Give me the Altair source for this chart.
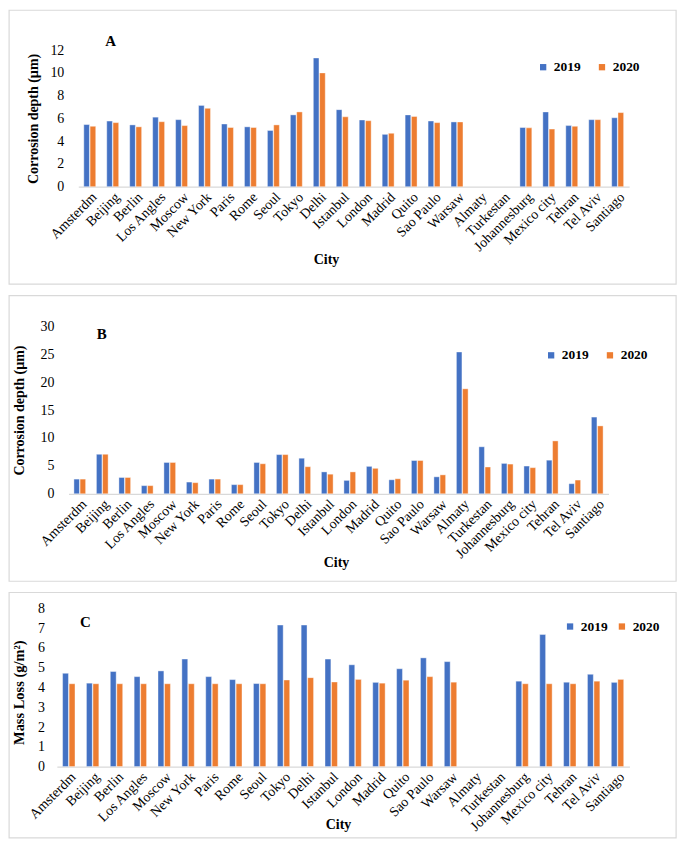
import altair as alt
import pandas as pd

cities = ["Amsterdm", "Beijing", "Berlin", "Los Angles", "Moscow", "New York", "Paris",
          "Rome", "Seoul", "Tokyo", "Delhi", "Istanbul", "London", "Madrid", "Quito",
          "Sao Paulo", "Warsaw", "Almaty", "Turkestan", "Johannesburg", "Mexico city",
          "Tehran", "Tel Aviv", "Santiago"]
years = ["2019", "2020"]

# Panel A: corrosion depth (um)
depth_a_2019 = [5.46, 5.77, 5.43, 6.11, 5.89, 7.14, 5.51, 5.26, 4.94, 6.31, 11.31, 6.77,
                5.86, 4.60, 6.31, 5.77, 5.69, None, None, 5.20, 6.57, 5.37, 5.89, 6.06]
depth_a_2020 = [5.31, 5.63, 5.26, 5.71, 5.37, 6.89, 5.20, 5.20, 5.43, 6.57, 10.00, 6.14,
                5.80, 4.69, 6.17, 5.63, 5.69, None, None, 5.17, 5.06, 5.31, 5.89, 6.51]
# Panel B: corrosion depth (um)
depth_b_2019 = [2.63, 7.08, 2.92, 1.46, 5.61, 2.10, 2.63, 1.64, 5.61, 7.02, 6.37, 3.92,
                2.40, 4.91, 2.51, 5.96, 3.04, 25.40, 8.42, 5.44, 4.97, 6.02, 1.81, 13.74]
depth_b_2020 = [2.63, 7.08, 2.92, 1.46, 5.61, 1.99, 2.63, 1.64, 5.38, 7.02, 4.85, 3.51,
                3.92, 4.56, 2.69, 5.96, 3.39, 18.80, 4.80, 5.32, 4.68, 9.47, 2.46, 12.16]
# Panel C: mass loss (g/m2)
mass_c_2019 = [4.72, 4.22, 4.81, 4.55, 4.84, 5.44, 4.55, 4.40, 4.20, 7.16, 7.16, 5.44,
               5.15, 4.26, 4.95, 5.50, 5.31, None, None, 4.32, 6.68, 4.27, 4.67, 4.26]
mass_c_2020 = [4.19, 4.19, 4.19, 4.19, 4.19, 4.19, 4.19, 4.19, 4.19, 4.38, 4.50, 4.28,
               4.41, 4.22, 4.37, 4.55, 4.27, None, None, 4.19, 4.19, 4.19, 4.32, 4.41]

FONT = "Liberation Serif"
BLUE = "#4472C4"
ORANGE = "#ED7D31"
BOX = "#d9d9d9"
INK = "#000000"


def panel(v2019, v2020, letter, ytitle, ymax, ystep, p):
    df = pd.DataFrame({
        "city": cities * 2,
        "year": [years[0]] * len(cities) + [years[1]] * len(cities),
        "value": list(v2019) + list(v2020),
    }).dropna()

    bars = alt.Chart(df).mark_bar(stroke="white", strokeWidth=0.4).encode(
        x=alt.X("city:N", sort=cities,
                scale=alt.Scale(domain=cities, range=[p["x0"], p["x1"]],
                                paddingInner=0.48, paddingOuter=0.24),
                axis=alt.Axis(title="City", labelAngle=-45, labelAlign="right",
                              labelBaseline="top", labelPadding=3, ticks=False,
                              domainColor=BOX, domainWidth=1.2,
                              labelFont=FONT, labelFontSize=14, labelColor=INK,
                              labelOverlap=False,
                              titleFont=FONT, titleFontSize=14, titleFontWeight="bold",
                              titleColor=INK, titleX=p["cityX"], titleY=p["cityY"],
                              titleAlign="center", titleBaseline="middle")),
        xOffset=alt.XOffset("year:N", scale=alt.Scale(domain=years, paddingInner=0.1)),
        y=alt.Y("value:Q",
                scale=alt.Scale(domain=[0, ymax], nice=False, zero=True),
                axis=alt.Axis(title=ytitle, values=list(range(0, ymax + 1, ystep)),
                              grid=False, ticks=False, domain=False,
                              offset=p["off"], labelPadding=p["lpad"],
                              labelFont=FONT, labelFontSize=14, labelColor=INK,
                              titleFont=FONT, titleFontSize=p["tfs"], titleFontWeight="bold",
                              titleColor=INK, titleX=p["ytX"], titleY=p["ytY"],
                              titleAngle=270, titleAlign="center", titleBaseline="middle")),
        color=alt.Color("year:N",
                        scale=alt.Scale(domain=years, range=[BLUE, ORANGE]),
                        legend=alt.Legend(orient="none", legendX=p["lgX"], legendY=p["lgY"],
                                          direction="horizontal", title=None,
                                          symbolType="square", symbolSize=40,
                                          symbolStrokeWidth=0,
                                          labelFont=FONT, labelFontSize=13.5,
                                          labelFontWeight="bold", labelColor=INK,
                                          columnPadding=p["colPad"], labelOffset=4,
                                          padding=0)),
    )

    one = pd.DataFrame({"k": [0]})
    box = alt.Chart(one).mark_rect(fillOpacity=0, stroke=BOX, strokeWidth=1.2).encode(
        x=alt.value(p["bl"]), x2=alt.value(p["br"]),
        y=alt.value(p["bt"]), y2=alt.value(p["bb"]),
    )
    tag = alt.Chart(one).mark_text(font=FONT, fontSize=15, fontWeight="bold", color=INK,
                                   align="center", baseline="middle").encode(
        x=alt.value(p["tagX"]), y=alt.value(p["tagY"]), text=alt.value(letter),
    )
    return alt.layer(box, bars, tag).properties(width=574, height=p["h"])


pA = dict(x0=21.5, x1=574.0, h=137, bl=-47.9, br=621.1, bt=-40, bb=234.7,
          tagX=54, tagY=-9.5, lgX=481, lgY=10, ytX=-45, ytY=68.5, tfs=14,
          lpad=14.5, off=-21.5, cityX=270, cityY=73, colPad=14)
pB = dict(x0=11.7, x1=553.3, h=168, bl=-47.9, br=621.1, bt=-30.7, bb=255.7,
          tagX=45, tagY=7.5, lgX=489, lgY=22, ytX=-48.8, ytY=84, tfs=14,
          lpad=14.5, off=-11.7, cityX=280, cityY=68.5, colPad=14)
pC = dict(x0=0, x1=574.3, h=158.6, bl=-47.9, br=621.1, bt=-16, bb=230.2,
          tagX=28.6, tagY=13.4, lgX=508, lgY=11, ytX=-37, ytY=84, tfs=14.5,
          lpad=12.5, off=0, cityX=282, cityY=58, colPad=7)

chart_a = panel(depth_a_2019, depth_a_2020, "A", "Corrosion depth (µm)", 12, 2, pA)
chart_b = panel(depth_b_2019, depth_b_2020, "B", "Corrosion depth (µm)", 30, 5, pB)
chart_c = panel(mass_c_2019, mass_c_2020, "C", "Mass Loss (g/m²)", 8, 1, pC)

chart = alt.vconcat(chart_a, chart_b, chart_c, spacing=9).resolve_scale(
    x="independent", y="independent", color="independent", xOffset="independent"
).resolve_legend(color="independent").properties(
    padding=0, background="white"
).configure_view(stroke=None)

chart.save("out.html", embed_options={"renderer": "svg", "actions": False})
